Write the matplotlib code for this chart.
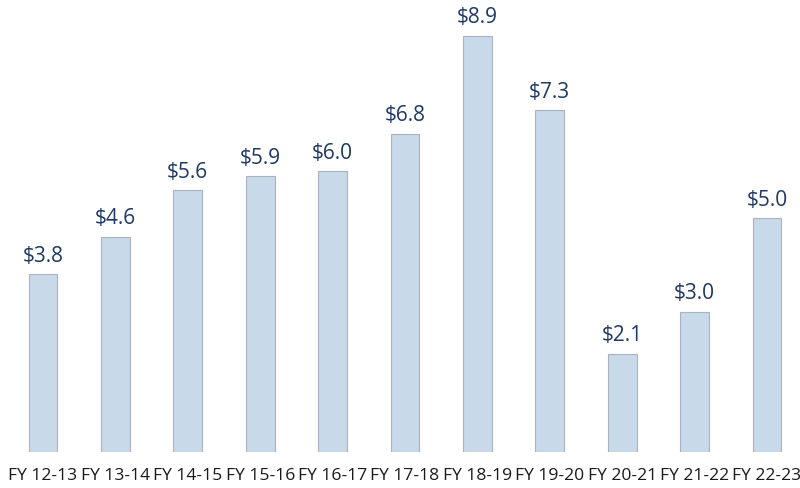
import matplotlib
matplotlib.use("Agg")
import matplotlib.pyplot as plt

categories = ["FY 12-13", "FY 13-14", "FY 14-15", "FY 15-16", "FY 16-17", "FY 17-18",
              "FY 18-19", "FY 19-20", "FY 20-21", "FY 21-22", "FY 22-23"]
values = [3.8, 4.6, 5.6, 5.9, 6.0, 6.8, 8.9, 7.3, 2.1, 3.0, 5.0]
value_labels = ["$3.8", "$4.6", "$5.6", "$5.9", "$6.0", "$6.8", "$8.9", "$7.3", "$2.1", "$3.0", "$5.0"]

plt.rcParams['font.family'] = ['Open Sans', 'DejaVu Sans']

fig = plt.figure(figsize=(8.0, 4.89), dpi=100)
ax = fig.add_axes([6.8/800, 1-453/489, 796.4/800, 453/489])
x = range(len(categories))
bars = ax.bar(x, values, width=0.40, color="#c8d9ea", edgecolor="#a9b3bf", linewidth=0.8)
for xi, v, lab in zip(x, values, value_labels):
    ax.annotate(lab, (xi, v), xytext=(0, 6), textcoords="offset points",
                ha="center", va="bottom", fontsize=15, color="#1f3864")
ax.set_xlim(-0.5, len(categories) - 0.5)
ax.set_ylim(0, 9.68)
ax.set_xticks(list(x))
ax.set_xticklabels(categories, fontsize=12.6, color="#1a1a1a")
ax.tick_params(axis="x", length=0, pad=11)
ax.set_yticks([])
for s in ax.spines.values():
    s.set_visible(False)
fig.savefig("out.png", dpi=100)
